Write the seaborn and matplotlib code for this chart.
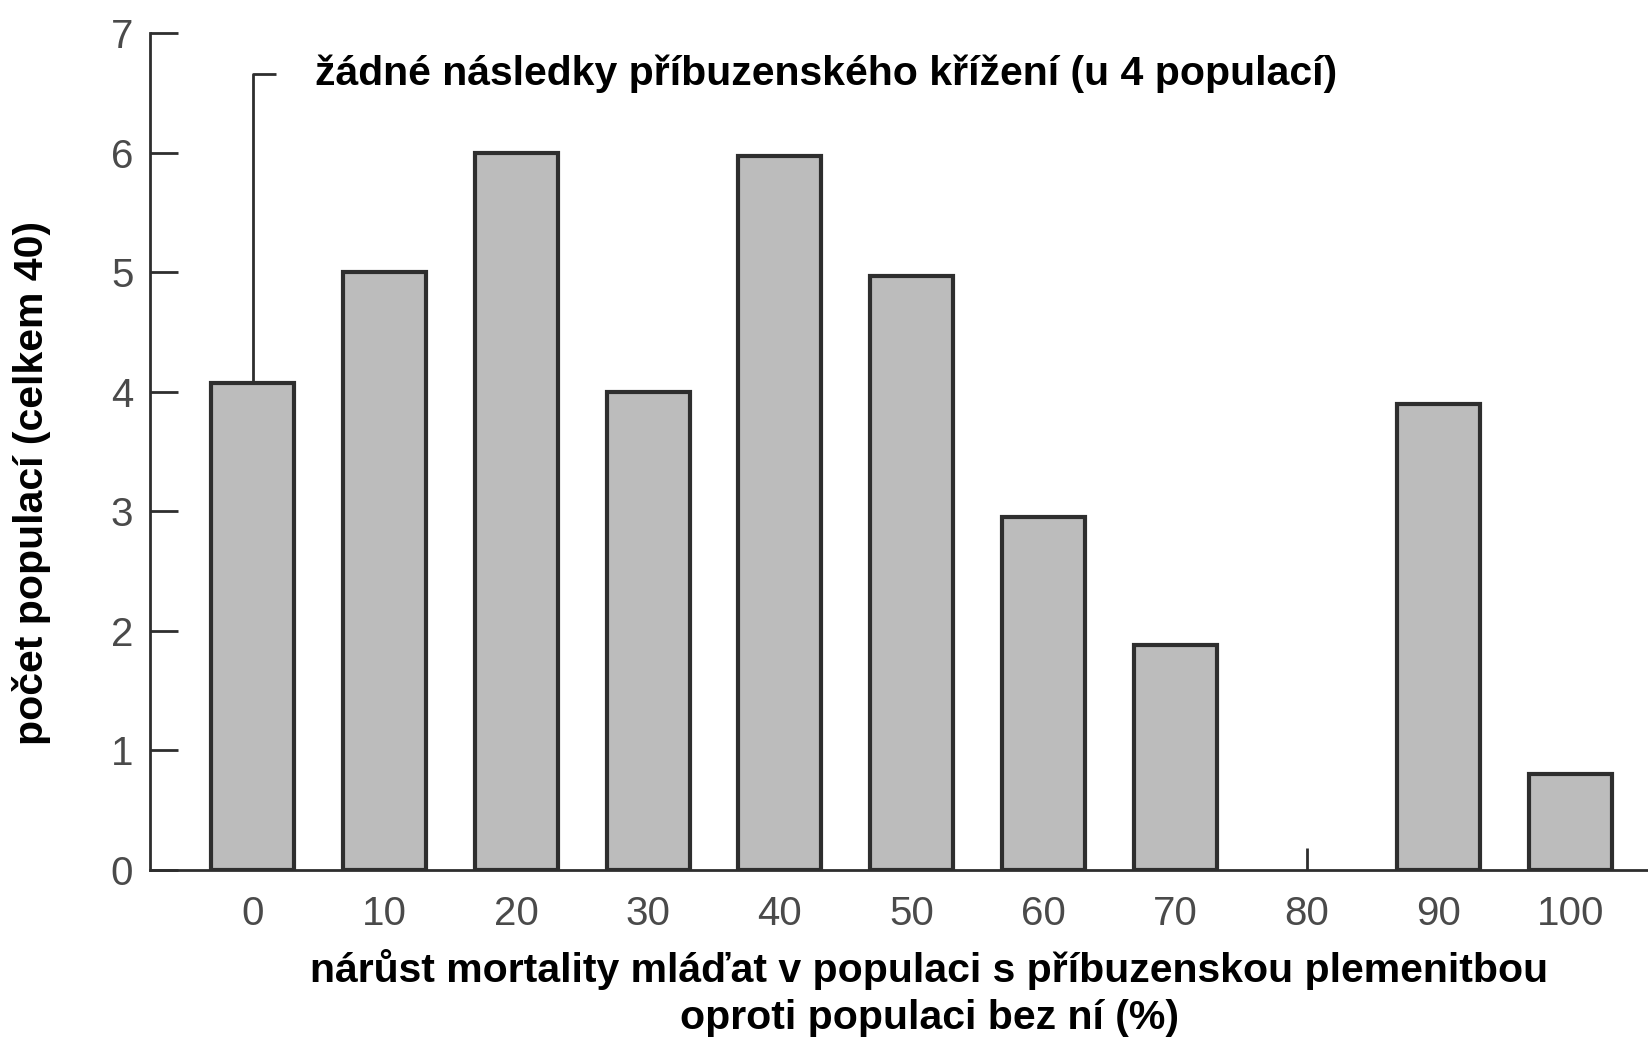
import numpy as np
import pandas as pd
import matplotlib
matplotlib.use("Agg")
import matplotlib.pyplot as plt
import seaborn as sns

# ==============================
# DATA
# ==============================

mortality = [0, 10, 20, 30, 40, 50, 60, 70, 80, 90, 100]
populations = [4.07, 5.0, 6.0, 4.0, 5.97, 4.97, 2.95, 1.88, 0.0, 3.9, 0.8]
y_ticks = [0, 1, 2, 3, 4, 5, 6, 7]
note_level = 6.66

note_text = "žádné následky příbuzenského křížení (u 4 populací)"
y_title = "počet populací (celkem 40)"
x_title = "nárůst mortality mláďat v populaci s příbuzenskou plemenitbou\noproti populaci bez ní (%)"

df = pd.DataFrame({"mortality": mortality, "count": populations})

# ==============================
# STYLE
# ==============================

sns.set_style("white")
plt.rcParams["font.family"] = ["Liberation Sans", "DejaVu Sans"]

edge = "#2e2e2e"
tick_col = "#4a4a4a"

fig = plt.figure(figsize=(16.48, 10.42), dpi=100)
ax = fig.add_axes([150 / 1648, 1 - 870 / 1042, 1 - 150 / 1648, (870 - 33) / 1042])

# ==============================
# BARS
# ==============================

sns.barplot(
    data=df,
    x="mortality",
    y="count",
    native_scale=True,
    width=0.63,
    color="#bcbcbc",
    saturation=1,
    edgecolor=edge,
    linewidth=3,
    ax=ax,
)

for p, v in zip(ax.patches, populations):
    if v == 0:
        p.set_linewidth(0)

ax.set_xlim(-7.8, 105.9)
ax.set_ylim(0, 7)

ax.set_xticks(mortality)
ax.set_xticklabels([str(m) for m in mortality])
ax.set_yticks(y_ticks)
ax.set_yticklabels([str(t) for t in y_ticks])

ax.tick_params(axis="y", direction="in", length=20, width=2, color=edge,
               labelsize=29, labelcolor=tick_col, pad=12, left=True)
ax.tick_params(axis="x", direction="in", length=16, width=2, color=edge,
               labelsize=29, labelcolor=tick_col, pad=18, bottom=True)

for side in ["top", "right"]:
    ax.spines[side].set_visible(False)
for side in ["left", "bottom"]:
    ax.spines[side].set_color(edge)
    ax.spines[side].set_linewidth(2)

ax.set_xlabel("")
ax.set_ylabel("")

# ==============================
# ANNOTATION
# ==============================

ax.plot([mortality[0], mortality[0], mortality[0] + 1.75],
        [populations[0], note_level, note_level],
        color=edge, linewidth=2, solid_capstyle="butt")

ax.text(mortality[0] + 4.7, note_level, note_text,
        fontsize=29.5, fontweight="bold", ha="left", va="center", color="black")

# ==============================
# AXIS TITLES
# ==============================

fig.text(32 / 1648, 1 - 483 / 1042, y_title, rotation=90,
         fontsize=29.5, fontweight="bold", ha="center", va="center",
         color="black")

fig.text(929 / 1648, 1 - 993 / 1042, x_title,
         fontsize=29.5, fontweight="bold", ha="center", va="center",
         linespacing=1.28, color="black")

fig.savefig("out.png", dpi=100, facecolor="white")
